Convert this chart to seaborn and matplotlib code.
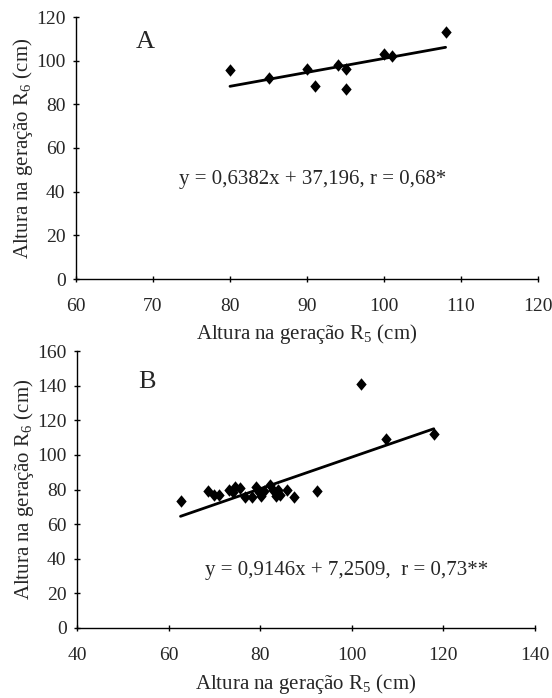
import numpy as np
import pandas as pd
import seaborn as sns
import matplotlib.pyplot as plt

# Panel A data (R5 vs R6 height, cm)
a_r5 = [80, 85, 90, 91, 94, 95, 95, 100, 101, 108]
a_r6 = [95.8, 92.1, 96.1, 88.4, 98.2, 96.0, 87.2, 103.0, 102.1, 113.1]
a_slope, a_icpt = 0.6382, 37.196

# Panel B data
b_r5 = [62.6, 68.6, 70.0, 71.1, 73.2, 74.5, 75.5, 74.0, 76.6, 78.3, 79.0, 79.8,
        80.1, 80.9, 82.1, 82.7, 83.8, 83.4, 84.3, 85.9, 87.4, 92.5, 101.9, 107.5, 117.9]
b_r6 = [73.5, 78.9, 76.8, 76.8, 79.9, 81.3, 80.7, 78.4, 75.5, 75.5, 81.3, 78.4,
        76.5, 79.3, 82.8, 79.9, 79.7, 76.5, 77.1, 79.7, 75.5, 79.3, 140.8, 108.9, 111.8]
b_slope, b_icpt = 0.9146, 7.2509

sns.set_style("ticks")
plt.rcParams['font.family'] = ['Liberation Serif', 'DejaVu Serif']
plt.rcParams['mathtext.fontset'] = 'custom'
plt.rcParams['mathtext.rm'] = 'Liberation Serif'

fig = plt.figure(figsize=(5.52, 6.98), dpi=100)
W, H = 552, 698
axA = fig.add_axes([76 / W, 1 - 279 / H, (538 - 76) / W, (279 - 17) / H])
axB = fig.add_axes([77 / W, 1 - 628 / H, (535 - 77) / W, (628 - 351) / H])

ylab = 'Altura na geração R$_6$ (cm)'
xlab = 'Altura na geração R$_5$ (cm)'

# slightly tall diamond, like the original markers
diamond = [(0, 1.2), (1, 0), (0, -1.2), (-1, 0), (0, 1.2)]


def panel(ax, x, y, slope, icpt, xlim, xticks, ylim, yticks, letter, eq, eq_pos, xlabpad):
    df = pd.DataFrame({'x': x, 'y': y})
    sns.scatterplot(data=df, x='x', y='y', marker=diamond, color='black', s=80,
                    edgecolor='black', linewidth=0, ax=ax, zorder=3)
    xs = np.array([min(x), max(x)])
    ax.plot(xs, slope * xs + icpt, color='black', lw=2, zorder=2)
    ax.set_xlim(*xlim)
    ax.set_ylim(*ylim)
    ax.set_xticks(xticks)
    ax.set_yticks(yticks)
    ax.tick_params(labelsize=14, length=5, width=1, color='black', direction='inout')
    ax.tick_params(axis='x', pad=11)
    ax.tick_params(axis='y', pad=5)
    ax.set_xlabel(xlab, fontsize=15, labelpad=xlabpad)
    ax.set_ylabel(ylab, fontsize=15, labelpad=1)
    for s in ['left', 'bottom']:
        ax.spines[s].set_linewidth(1)
        ax.spines[s].set_color('black')
    sns.despine(ax=ax)
    ax.text(letter[0], letter[1], letter[2], fontsize=19, ha='left', va='center')
    ax.text(eq_pos[0], eq_pos[1], eq, fontsize=15, ha='center', va='center')


panel(axA, a_r5, a_r6, a_slope, a_icpt, (60, 120), range(60, 121, 10),
      (0, 120), range(0, 121, 20), (67.8, 108.5, 'A'),
      'y = 0,6382x + 37,196, r = 0,68*', (90.7, 45.5), 5)
panel(axB, b_r5, b_r6, b_slope, b_icpt, (40, 140), range(40, 141, 20),
      (0, 160), range(0, 161, 20), (53.3, 142, 'B'),
      'y = 0,9146x + 7,2509,  r = 0,73**', (98.8, 33), 6)

fig.savefig('out.png', dpi=100)
